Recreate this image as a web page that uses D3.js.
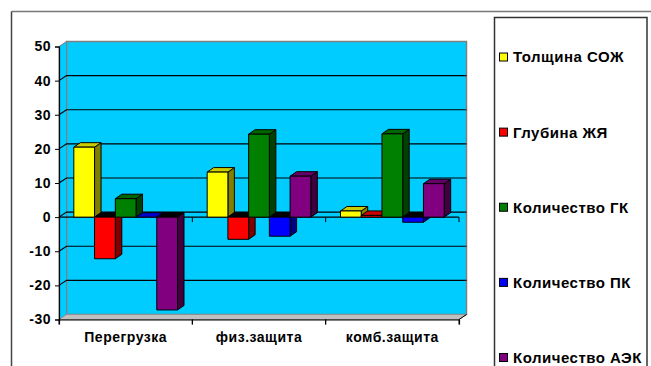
<!DOCTYPE html>
<html>
<head>
<meta charset="utf-8">
<script src="https://cdn.jsdelivr.net/npm/d3@7"></script>
<style>
  html, body { margin: 0; padding: 0; background: #fff; }
  svg { display: block; }
  text { font-family: "Liberation Sans", Arial, sans-serif; font-weight: bold; fill: #000; }
</style>
</head>
<body>
<svg id="chart" width="651" height="366"></svg>
<script>
// Categories, series and values
const categories = ["Перегрузка", "физ.защита", "комб.защита"];
const seriesNames = ["Толщина СОЖ", "Глубина ЖЯ", "Количество ГК", "Количество ПК", "Количество АЭК"];
const tolshchinaSOZh = [20.5, 13.2, 1.8];
const glubinaZhYa    = [-12.2, -6.5, 0.5];
const kolichestvoGK  = [5.4, 24.3, 24.4];
const kolichestvoPK  = [0, -5.6, -1.5];
const kolichestvoAEK = [-27.2, 12.0, 9.8];
const yTicks = [-30, -20, -10, 0, 10, 20, 30, 40, 50];

const seriesValues = [tolshchinaSOZh, glubinaZhYa, kolichestvoGK, kolichestvoPK, kolichestvoAEK];
// front / top / side shades per series
const palette = [
  { front: "#ffff00", top: "#cccc00", side: "#7f7f00" },
  { front: "#ff0000", top: "#cc0000", side: "#800000" },
  { front: "#008000", top: "#006600", side: "#004000" },
  { front: "#0000ff", top: "#0000cc", side: "#000080" },
  { front: "#800080", top: "#660066", side: "#400040" }
];

const svg = d3.select("#chart");

// outer chart frame
svg.append("line").attr("x1", 11.5).attr("y1", 11.5).attr("x2", 651).attr("y2", 11.5)
  .attr("stroke", "#777").attr("stroke-width", 1.5);
svg.append("line").attr("x1", 11.5).attr("y1", 11.5).attr("x2", 11.5).attr("y2", 366)
  .attr("stroke", "#444").attr("stroke-width", 1.5);

// plot geometry (front plane) and wall depth
const left = 59, right = 459;
const DX = 7.5, DY = 5;          // wall depth offset
const BDX = 6.5, BDY = 4.5;      // bar depth offset

const y = d3.scaleLinear().domain([-30, 50]).range([319.5, 46.5]);
const x0 = d3.scaleBand().domain(categories).range([left, right]).padding(0);
const x1 = d3.scaleBand().domain(seriesNames).range([0, x0.bandwidth()])
  .paddingInner(0).paddingOuter(0.715);

const yMin = y(-30), yMax = y(50);
const pts = a => a.map(p => p.join(",")).join(" ");

// back wall
svg.append("rect")
  .attr("x", left + DX).attr("y", yMax - DY)
  .attr("width", right - left).attr("height", yMin - yMax)
  .attr("fill", "#00ccff").attr("stroke", "#808080").attr("stroke-width", 1.5);
// side wall
svg.append("polygon")
  .attr("points", pts([[left, yMax], [left + DX, yMax - DY], [left + DX, yMin - DY], [left, yMin]]))
  .attr("fill", "#00ccff").attr("stroke", "#808080").attr("stroke-width", 1);
// floor
svg.append("polygon")
  .attr("points", pts([[left, yMin], [left + DX, yMin - DY], [right + DX, yMin - DY], [right, yMin]]))
  .attr("fill", "#c0c0c0").attr("stroke", "#909090").attr("stroke-width", 1);
svg.append("line").attr("x1", right).attr("y1", yMin).attr("x2", right + DX).attr("y2", yMin - DY)
  .attr("stroke", "#000").attr("stroke-width", 1);

// gridlines on back and side walls
yTicks.filter(t => t > -30 && t < 50).forEach(t => {
  svg.append("polyline")
    .attr("points", pts([[left, y(t)], [left + DX, y(t) - DY], [right + DX, y(t) - DY]]))
    .attr("fill", "none").attr("stroke", "#000").attr("stroke-width", 1.2);
});

// front zero line with category ticks
svg.append("line").attr("x1", left).attr("y1", y(0)).attr("x2", right).attr("y2", y(0))
  .attr("stroke", "#000").attr("stroke-width", 1.2);
x0.domain().forEach(c => {
  const xx = x0(c) + x0.bandwidth();
  svg.append("line").attr("x1", xx).attr("y1", y(0)).attr("x2", xx).attr("y2", y(0) + 5)
    .attr("stroke", "#000").attr("stroke-width", 1);
});

// bars
categories.forEach((c, ci) => {
  seriesNames.forEach((s, si) => {
    const v = seriesValues[si][ci];
    const col = palette[si];
    const xa = x0(c) + x1(s), xb = xa + x1.bandwidth();
    const yz = y(0), yv = y(v);
    const g = svg.append("g").attr("stroke", "#000").attr("stroke-width", 1).attr("stroke-linejoin", "round");
    if (v >= 0) {
      g.append("polygon").attr("fill", col.side)
        .attr("points", pts([[xb, yv], [xb + BDX, yv - BDY], [xb + BDX, yz - BDY], [xb, yz]]));
      g.append("polygon").attr("fill", col.top)
        .attr("points", pts([[xa, yv], [xa + BDX, yv - BDY], [xb + BDX, yv - BDY], [xb, yv]]));
      if (yz - yv > 0.5)
        g.append("rect").attr("x", xa).attr("y", yv).attr("width", xb - xa).attr("height", yz - yv)
          .attr("fill", col.front);
    } else {
      g.append("polygon").attr("fill", col.side)
        .attr("points", pts([[xb, yz], [xb + BDX, yz - BDY], [xb + BDX, yv - BDY], [xb, yv]]));
      g.append("polygon").attr("fill", "#000")
        .attr("points", pts([[xa, yz], [xa + BDX, yz - BDY], [xb + BDX, yz - BDY], [xb, yz]]));
      g.append("rect").attr("x", xa).attr("y", yz).attr("width", xb - xa).attr("height", yv - yz)
        .attr("fill", col.front);
    }
  });
});

const labelFont = sel => sel.style("font-size", "14px").style("font-weight", "bold")
  .style("letter-spacing", "0.5px")
  .style("font-family", "'Liberation Sans', Arial, sans-serif").attr("fill", "#000");

// value axis
const yAxis = d3.axisLeft(y).tickValues(yTicks).tickSize(4).tickPadding(4).tickFormat(d => String(d));
const ya = svg.append("g").attr("transform", `translate(${left},0)`).call(yAxis);
ya.select(".domain").attr("stroke", "#000").attr("stroke-width", 1.2);
ya.selectAll(".tick line").attr("stroke", "#000");
ya.selectAll("text").call(labelFont);

// category axis at the floor
const xAxis = d3.axisBottom(x0).tickSize(5).tickPadding(8).tickSizeOuter(5);
const xa = svg.append("g").attr("transform", `translate(0,${yMin})`).call(xAxis);
xa.select(".domain").attr("stroke", "#000").attr("stroke-width", 1.2);
xa.selectAll(".tick line").remove();
xa.selectAll(".tick text").call(labelFont);
x0.domain().forEach(c => {
  [x0(c), x0(c) + x0.bandwidth()].forEach(xx => {
    xa.append("line").attr("x1", xx).attr("x2", xx).attr("y1", 0).attr("y2", 5).attr("stroke", "#000");
  });
});

// legend
const lg = svg.append("g");
lg.append("rect").attr("x", 494.5).attr("y", 17.5).attr("width", 152.5).attr("height", 360)
  .attr("fill", "#fff").attr("stroke", "#333").attr("stroke-width", 1.5);
const ly = d3.scalePoint().domain(seriesNames).range([57, 357.5]);
seriesNames.forEach((s, i) => {
  lg.append("rect").attr("x", 499.5).attr("y", ly(s) - 4).attr("width", 8).attr("height", 8)
    .attr("fill", palette[i].front).attr("stroke", "#000").attr("stroke-width", 1);
  lg.append("text").attr("x", 513).attr("y", ly(s)).attr("dy", "0.36em")
    .style("font-size", "15px").style("letter-spacing", "0.5px").text(s);
});
</script>
</body>
</html>
